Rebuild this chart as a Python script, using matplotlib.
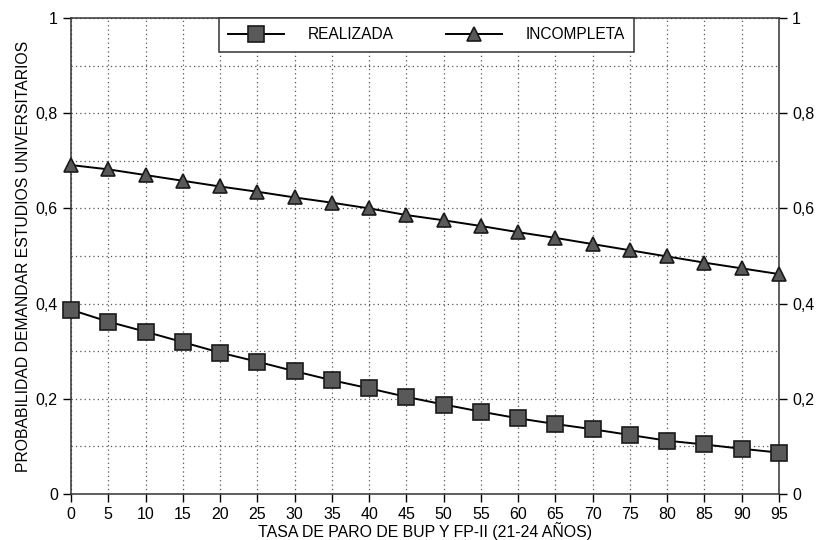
import numpy as np
import matplotlib.pyplot as plt
from matplotlib.ticker import MultipleLocator, FuncFormatter

plt.rcParams['font.family'] = ['Liberation Sans', 'DejaVu Sans']

tasa = [0, 5, 10, 15, 20, 25, 30, 35, 40, 45, 50, 55, 60, 65, 70, 75, 80, 85, 90, 95]
realizada = [0.387, 0.362, 0.341, 0.319, 0.297, 0.278, 0.258, 0.239, 0.222, 0.204,
             0.188, 0.173, 0.159, 0.147, 0.136, 0.124, 0.112, 0.104, 0.095, 0.087]
incompleta = [0.691, 0.682, 0.670, 0.658, 0.646, 0.635, 0.623, 0.612, 0.600, 0.586,
              0.575, 0.563, 0.550, 0.538, 0.525, 0.512, 0.499, 0.486, 0.474, 0.462]

fig = plt.figure(figsize=(8.18, 5.4), dpi=100)
ax = fig.add_axes([0.0868, 0.0852, 0.8655, 0.8815])

ax.plot(tasa, realizada, color='black', lw=1.4, marker='s', markersize=11,
        markerfacecolor='#595959', markeredgecolor='#1a1a1a', markeredgewidth=1.2,
        label='REALIZADA', clip_on=False, zorder=3)
ax.plot(tasa, incompleta, color='black', lw=1.4, marker='^', markersize=10,
        markerfacecolor='#595959', markeredgecolor='#1a1a1a', markeredgewidth=1.2,
        label='INCOMPLETA', clip_on=False, zorder=3)

ax.set_xlim(0, 95)
ax.set_ylim(0, 1)
ax.xaxis.set_major_locator(MultipleLocator(5))
ax.yaxis.set_major_locator(MultipleLocator(0.2))
ax.yaxis.set_minor_locator(MultipleLocator(0.1))
fmt = FuncFormatter(lambda v, p: '0' if abs(v) < 1e-9 else ('1' if abs(v - 1) < 1e-9 else f'{v:.1f}'.replace('.', ',')))
ax.yaxis.set_major_formatter(fmt)

ax.grid(True, which='both', linestyle=(0, (1, 2.5)), color='#555555', lw=0.9)
ax.tick_params(axis='y', which='minor', length=0)
ax.tick_params(axis='both', which='major', direction='out', length=6, width=1,
               labelsize=11.5, right=True, labelright=True)
for s in ax.spines.values():
    s.set_linewidth(1.1)
    s.set_color('#333333')

ax.set_xlabel('TASA DE PARO DE BUP Y FP-II (21-24 AÑOS)', fontsize=11.4, labelpad=0)
ax.set_ylabel('PROBABILIDAD DEMANDAR ESTUDIOS UNIVERSITARIOS', fontsize=11.3, labelpad=3)

leg = ax.legend(loc='upper center', bbox_to_anchor=(0.502, 1.0), ncol=2, borderaxespad=0,
                fancybox=False, framealpha=1, edgecolor='#333333', fontsize=11.2,
                handlelength=3.6, columnspacing=3.4, handletextpad=1.5, borderpad=0.6)
leg.get_frame().set_linewidth(1.1)

fig.savefig('out.png', dpi=100)
